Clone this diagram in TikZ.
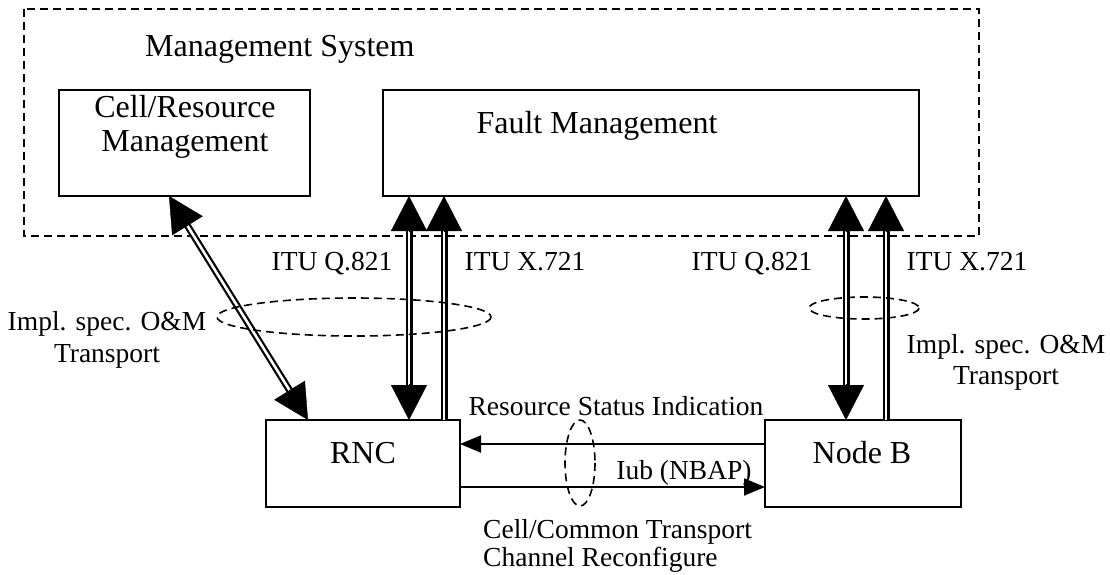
\documentclass[tikz,border=0pt]{standalone}
\usepackage{fontspec}
\setmainfont{Liberation Serif}
\usetikzlibrary{arrows.meta,calc}
\begin{document}
\begin{tikzpicture}[x=1pt,y=-1pt,
  box/.style={draw,line width=2pt,inner sep=0pt,outer sep=0pt},
  dbl/.style={draw,double,line width=2.2pt,double distance=2.6pt},
  bighead/.style={-{Triangle[length=35pt,width=36pt]},line width=0.4pt},
  smallarrow/.style={-{Triangle[length=21pt,width=17pt]},line width=1.8pt},
  lbl/.style={font=\fontsize{27.5}{31}\selectfont,inner sep=0pt},
  big/.style={font=\fontsize{32}{34}\selectfont,inner sep=0pt},
  grp/.style={draw,line width=1.8pt,dash pattern=on 8pt off 5pt},
  ring/.style={draw,line width=1.6pt,dash pattern=on 8pt off 5pt}
]
\useasboundingbox (0,0) rectangle (1110,574);

% group frame
\draw[grp] (24,9) rectangle (979,236);
\node[big,anchor=base west] (ms) at (145,56) {Management System};

% boxes
\node[box,minimum width=251pt,minimum height=106pt] (cell) at (184.5,143) {};
\node[big,align=center] (celltxt) at (185,127) {Cell/Resource\\Management};
\node[box,minimum width=536pt,minimum height=106pt] (fm) at (651,143) {};
\node[big] (fmtxt) at (597,126) {Fault Management};
\node[box,minimum width=194pt,minimum height=87pt] (rnc) at (363,463.5) {};
\node[big] (rnctxt) at (363,453) {RNC};
\node[box,minimum width=196pt,minimum height=87pt] (nodeb) at (863,463.5) {};
\node[big] (nbtxt) at (862,453) {Node B};

% helper coordinates
\coordinate (xq1) at (409,0);
\coordinate (xx1) at (444,0);
\coordinate (xq2) at (846,0);
\coordinate (xx2) at (886,0);
\coordinate (xd1) at (169,0);
\coordinate (xd2) at (308,0);
\coordinate (ya) at (0,444);
\coordinate (yb) at (0,487);

\coordinate (q1t) at (fm.south -| xq1);
\coordinate (q1b) at (rnc.north -| xq1);
\coordinate (x1t) at (fm.south -| xx1);
\coordinate (x1b) at (rnc.north -| xx1);
\coordinate (q2t) at (fm.south -| xq2);
\coordinate (q2b) at (nodeb.north -| xq2);
\coordinate (x2t) at (fm.south -| xx2);
\coordinate (x2b) at (nodeb.north -| xx2);
\coordinate (dt) at (cell.south -| xd1);
\coordinate (db) at (rnc.north -| xd2);

% double connectors
\draw[dbl,shorten <=30pt,shorten >=30pt] (q1t) -- (q1b);
\draw[dbl,shorten <=30pt] (x1t) -- (x1b);
\draw[dbl,shorten <=30pt,shorten >=30pt] (q2t) -- (q2b);
\draw[dbl,shorten <=30pt] (x2t) -- (x2b);
\draw[dbl,shorten <=30pt,shorten >=30pt] (dt) -- (db);

% arrow heads
\draw[bighead] ($(q1t)!36pt!(q1b)$) -- (q1t);
\draw[bighead] ($(q1b)!36pt!(q1t)$) -- (q1b);
\draw[bighead] ($(x1t)!36pt!(x1b)$) -- (x1t);
\draw[bighead] ($(q2t)!36pt!(q2b)$) -- (q2t);
\draw[bighead] ($(q2b)!36pt!(q2t)$) -- (q2b);
\draw[bighead] ($(x2t)!36pt!(x2b)$) -- (x2t);
\draw[bighead] ($(dt)!36pt!(db)$) -- (dt);
\draw[bighead] ($(db)!36pt!(dt)$) -- (db);

% NBAP arrows
\draw[smallarrow] (nodeb.west |- ya) -- (rnc.east |- ya);
\draw[smallarrow] (rnc.east |- yb) -- (nodeb.west |- yb);

% grouping ellipses
\draw[ring] (354,317) ellipse [x radius=137, y radius=19];
\draw[ring] (864,308) ellipse [x radius=55, y radius=11];
\draw[ring] (580,463) ellipse [x radius=15, y radius=43];

% labels
\node[lbl,anchor=base] (l1) at (332,270) {ITU Q.821};
\node[lbl,anchor=base] (l2) at (525,270) {ITU X.721};
\node[lbl,anchor=base] (l3) at (752,270) {ITU Q.821};
\node[lbl,anchor=base] (l4) at (967,270) {ITU X.721};
\node[lbl,align=center,font=\fontsize{27.5}{32}\selectfont] (l5) at (107,340) {Impl. spec. O\&M\\Transport};
\node[lbl,align=center,font=\fontsize{27.5}{31}\selectfont] (l6) at (1006,362) {Impl. spec. O\&M\\Transport};
\node[lbl,anchor=base] (l7) at (616,415) {Resource Status Indication};
\node[lbl,anchor=base] (l8) at (684,479) {Iub (NBAP)};
\node[lbl,align=left,anchor=north west,font=\fontsize{27.5}{28.5}\selectfont] (l9) at (483,519) {Cell/Common Transport\\Channel Reconfigure};
\end{tikzpicture}
\end{document}
